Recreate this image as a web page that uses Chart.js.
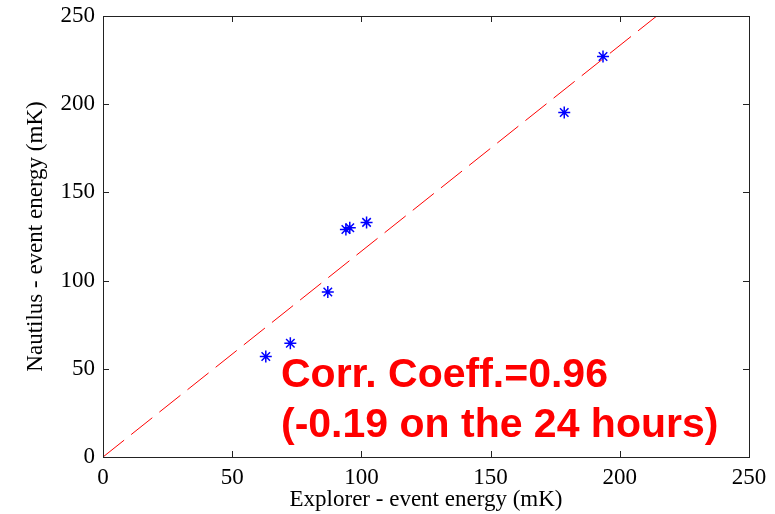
<!DOCTYPE html>
<html>
<head>
<meta charset="utf-8">
<title>Explorer vs Nautilus event energy</title>
<script src="https://cdn.jsdelivr.net/npm/chart.js@4.4.1/dist/chart.umd.min.js"></script>
<style>
  html, body { margin:0; padding:0; background:#fff; }
  #wrap { width:775px; height:514px; }
</style>
</head>
<body>
<div id="wrap"><canvas id="cv" width="775" height="514"></canvas></div>
<script>
/* event energies seen by both detectors (mK) */
var explorerE = [63, 72.5, 87, 94, 95.5, 102, 178.5, 193.5];
var nautilusE = [57, 64.5, 93.5, 129, 130, 133, 195.3, 227];

/* straight-line fit, two ends */
var fitX = [0, 214.3];
var fitY = [0, 250];

var axisTicks = [0, 50, 100, 150, 200, 250];
var noteLines = ['Corr. Coeff.=0.96', '(-0.19 on the 24 hours)'];

function toPoints(xs, ys){
  return xs.map(function(x, i){ return {x:x, y:ys[i]}; });
}

var SERIF = '"Liberation Serif", "Times New Roman", serif';

/* frame + inward tick marks, matlab style */
var boxPlugin = {
  id:'box',
  afterDraw:function(chart){
    var ctx = chart.ctx, a = chart.chartArea;
    var sx = chart.scales.x, sy = chart.scales.y;
    var len = 6;
    ctx.save();
    ctx.strokeStyle = '#222';
    ctx.lineWidth = 1;
    ctx.beginPath();
    axisTicks.forEach(function(v){
      var px = Math.round(sx.getPixelForValue(v)) + 0.5;
      ctx.moveTo(px, a.bottom); ctx.lineTo(px, a.bottom - len);
      ctx.moveTo(px, a.top);    ctx.lineTo(px, a.top + len);
      var py = Math.round(sy.getPixelForValue(v)) + 0.5;
      ctx.moveTo(a.left, py);   ctx.lineTo(a.left + len, py);
      ctx.moveTo(a.right, py);  ctx.lineTo(a.right - len, py);
    });
    ctx.stroke();
    ctx.strokeRect(Math.round(a.left) + 0.5, Math.round(a.top) + 0.5,
                   Math.round(a.right - a.left), Math.round(a.bottom - a.top));

    // correlation note
    ctx.fillStyle = '#ff0000';
    ctx.font = 'bold 41px "Liberation Sans", Arial, sans-serif';
    ctx.textBaseline = 'alphabetic';
    ctx.textAlign = 'left';
    ctx.fillText(noteLines[0], 281, 387);
    ctx.fillText(noteLines[1], 281, 437);
    ctx.restore();
  }
};

var ctx = document.getElementById('cv');
new Chart(ctx, {
  type:'scatter',
  data:{
    datasets:[
      {
        label:'events',
        data:toPoints(explorerE, nautilusE),
        pointStyle:'star',
        pointRadius:6,
        pointBorderColor:'#0000ff',
        pointBackgroundColor:'#0000ff',
        pointBorderWidth:1.5,
        showLine:false
      },
      {
        label:'fit',
        data:toPoints(fitX, fitY),
        showLine:true,
        borderColor:'#ff0000',
        borderWidth:1,
        borderDash:[27, 9],
        pointRadius:0,
        fill:false
      }
    ]
  },
  options:{
    responsive:false,
    animation:false,
    layout:{padding:{top:16, right:26, left:0, bottom:0}},
    plugins:{legend:{display:false}, tooltip:{enabled:false}},
    scales:{
      x:{
        type:'linear', min:0, max:250,
        afterBuildTicks:function(s){ s.ticks = axisTicks.map(function(v){ return {value:v}; }); },
        afterFit:function(s){ s.height = 57; s.paddingLeft = 0; s.paddingRight = 0; },
        grid:{display:false, drawTicks:false},
        border:{display:false},
        ticks:{color:'#000', padding:7, maxRotation:0, font:{family:SERIF, size:23}},
        title:{display:true, text:'Explorer - event energy (mK)', color:'#000',
               padding:{top:0, bottom:0}, font:{family:SERIF, size:23}}
      },
      y:{
        type:'linear', min:0, max:250,
        afterBuildTicks:function(s){ s.ticks = axisTicks.map(function(v){ return {value:v}; }); },
        afterFit:function(s){ s.width = 103; s.paddingTop = 0; s.paddingBottom = 0; },
        grid:{display:false, drawTicks:false},
        border:{display:false},
        ticks:{color:'#000', padding:8, font:{family:SERIF, size:23}},
        title:{display:true, text:'Nautilus - event energy (mK)', color:'#000',
               padding:{top:22, bottom:0}, font:{family:SERIF, size:23}}
      }
    }
  },
  plugins:[boxPlugin]
});
</script>
</body>
</html>
